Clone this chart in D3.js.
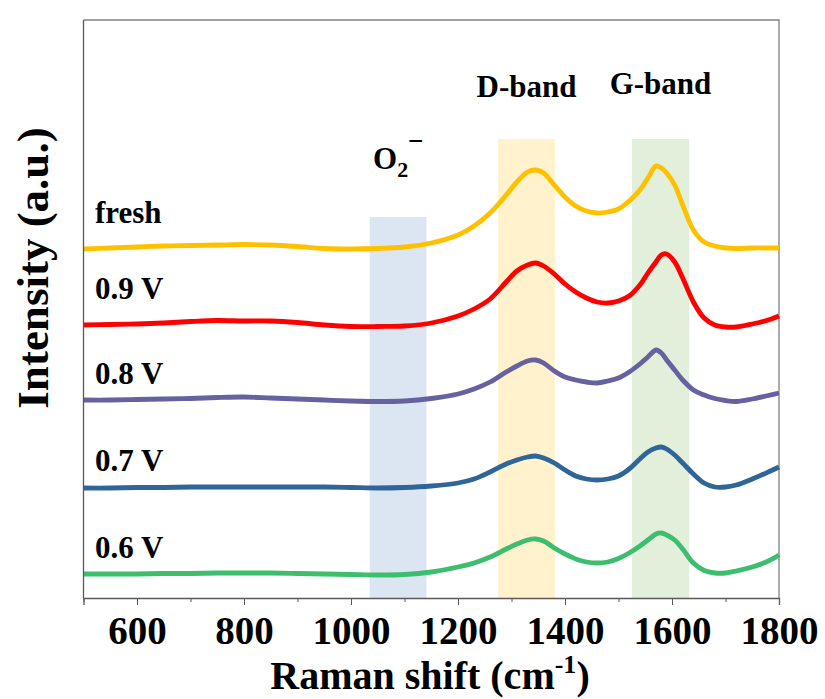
<!DOCTYPE html>
<html lang="en">
<head>
  <meta charset="UTF-8">
  <title>Raman spectra</title>
  <style>
    body { margin: 0; background: #fff; }
    svg { display: block; }
    text { font-family: "Liberation Serif", "Times New Roman", serif; font-weight: bold; fill: #000; }
    .series-label { font-size: 31px; }
    .band-label { font-size: 31px; }
  </style>
</head>
<body>
  <div id="chart"></div>

  <script src="https://d3js.org/d3.v7.min.js"></script>
  <script>
    // Raman shift (cm-1) sample positions, shared by all spectra
    const shifts = [500, 550, 600, 650, 700, 750, 800, 850, 900, 950, 1000, 1050, 1100, 1150, 1200,
      1230, 1260, 1290, 1310, 1330, 1345, 1360, 1380, 1400, 1420, 1440, 1460, 1480, 1500, 1520,
      1540, 1555, 1570, 1580, 1590, 1605, 1620, 1640, 1660, 1680, 1700, 1720, 1750, 1780, 1800];

    // intensities (a.u., stacked with offsets as in the figure)
    const fresh = [349, 350, 351, 352, 352.5, 353, 353.5, 353, 351.5, 349.5, 349, 349.5, 351, 355, 363,
      372, 385, 403, 416, 426, 428, 425, 413, 401, 392, 387, 385, 386, 389, 397,
      408, 420, 432, 430, 425, 413, 393, 368, 356, 352, 350, 349.5, 350, 350, 350];
    const v09 = [273, 273.5, 274, 275, 276.5, 277.5, 277, 277, 275.5, 273, 271.5, 271.5, 272, 275, 282,
      289, 299, 316, 327, 333, 335, 332, 324, 314, 306, 300, 296, 295, 297, 302,
      313, 325, 336, 343, 344, 336, 320, 296, 280, 273, 271, 271, 274, 278, 282];
    const v08 = [198, 198, 198.5, 199, 199.5, 200.5, 201, 200, 199, 198, 197, 196.5, 197, 199.5, 204,
      209, 216, 226, 232, 237, 238, 235, 227, 221, 218, 216, 215, 217, 220, 226,
      234, 241, 248, 245, 238, 228, 218, 208, 203, 199.5, 197.5, 196.5, 199, 202.5, 205];
    const v07 = [110, 110, 110.5, 110.5, 111, 111, 111, 111, 111, 111, 110.5, 110, 110.5, 112, 115,
      119, 126, 134, 138, 141, 142, 140, 135, 128, 122, 119, 118, 119, 122, 129,
      139, 146, 150, 151, 149, 143, 135, 124, 115, 111, 111, 113, 119, 126, 131];
    const v06 = [24, 24, 24, 24.5, 24.5, 25, 25, 25, 24.5, 24, 23.5, 23, 23.5, 26, 31,
      35, 41, 49, 54, 58, 59, 57, 50, 44, 39, 36, 35, 36, 39.5, 45,
      52, 58, 64, 65, 63, 58, 49, 35, 27.5, 25, 25, 27, 31, 37, 43];

    const seriesNames = ["fresh", "0.9 V", "0.8 V", "0.7 V", "0.6 V"];
    const seriesValues = [fresh, v09, v08, v07, v06];
    const seriesColors = ["#ffc000", "#ff0000", "#6661a0", "#2f6599", "#3dbe6f"];

    // highlighted regions (cm-1)
    const bandNames = ["O2-", "D-band", "G-band"];
    const bandRanges = [[1035, 1141], [1275, 1381], [1525, 1632]];
    const bandColors = ["#dce6f2", "#fff2cc", "#e2efda"];

    const xTicks = d3.range(500, 1801, 100);

    const W = 825, H = 699;
    const plot = { left: 83.5, right: 779, top: 20, bottom: 598 };

    const svg = d3.select("#chart").append("svg")
      .attr("width", W)
      .attr("height", H);

    const x = d3.scaleLinear().domain([500, 1800]).range([plot.left, plot.right]);
    const y = d3.scaleLinear().domain([0, 578]).range([plot.bottom, plot.top]);

    // shaded bands
    const bandTops = [381, 459, 459];
    svg.append("g").selectAll("rect")
      .data(bandRanges)
      .join("rect")
      .attr("x", d => x(d[0]))
      .attr("width", d => x(d[1]) - x(d[0]))
      .attr("y", (d, i) => y(bandTops[i]))
      .attr("height", (d, i) => plot.bottom - y(bandTops[i]))
      .attr("fill", (d, i) => bandColors[i]);

    // frame (top and right)
    svg.append("path")
      .attr("d", `M${plot.left},${plot.top}H${plot.right}V${plot.bottom}`)
      .attr("fill", "none")
      .attr("stroke", "#808080")
      .attr("stroke-width", 1.3);

    // spectra
    const line = d3.line()
      .x((d, i) => x(shifts[i]))
      .y(d => y(d))
      .curve(d3.curveCatmullRom.alpha(0.5));

    svg.append("g").selectAll("path")
      .data(seriesValues)
      .join("path")
      .attr("d", d => line(d))
      .attr("fill", "none")
      .attr("stroke", (d, i) => seriesColors[i])
      .attr("stroke-width", 4.8)
      .attr("stroke-linejoin", "round");

    // series labels
    const labelBase = [223, 299, 384, 471, 558];
    svg.append("g").selectAll("text")
      .data(seriesNames)
      .join("text")
      .attr("class", "series-label")
      .attr("x", 95)
      .attr("y", (d, i) => labelBase[i])
      .text(d => d);

    // x axis
    const xAxis = svg.append("g")
      .attr("transform", `translate(0,${plot.bottom})`)
      .call(d3.axisBottom(x)
        .tickValues(xTicks)
        .tickSize(7)
        .tickFormat(d => d % 200 === 0 ? d : ""));
    xAxis.select(".domain").attr("stroke", "#595959").attr("stroke-width", 1.3);
    xAxis.selectAll(".tick line")
      .attr("stroke", "#595959")
      .attr("y2", d => d % 200 === 0 ? 7 : 4);
    xAxis.selectAll(".tick text")
      .attr("dy", null)
      .attr("y", 46)
      .style("font-family", "'Liberation Serif', serif")
      .style("font-weight", "bold")
      .style("font-size", "39px");

    // y axis line (no ticks)
    svg.append("line")
      .attr("x1", plot.left).attr("x2", plot.left)
      .attr("y1", plot.top).attr("y2", plot.bottom)
      .attr("stroke", "#595959")
      .attr("stroke-width", 1.3);

    // axis titles
    const xt = svg.append("text")
      .attr("x", 430)
      .attr("y", 689)
      .attr("text-anchor", "middle")
      .style("font-size", "40px");
    xt.append("tspan").text("Raman shift (cm");
    xt.append("tspan").attr("dy", -16).style("font-size", "26px").text("-1");
    xt.append("tspan").attr("dy", 16).text(")");

    svg.append("text")
      .attr("transform", "translate(48,268) rotate(-90)")
      .attr("text-anchor", "middle")
      .style("font-size", "45px")
      .text("Intensity (a.u.)");

    // band labels
    svg.append("text").attr("class", "band-label")
      .attr("x", x(d3.mean(bandRanges[1]))).attr("y", 97)
      .attr("text-anchor", "middle").text(bandNames[1]);
    svg.append("text").attr("class", "band-label")
      .attr("x", x(d3.mean(bandRanges[2]))).attr("y", 94)
      .attr("text-anchor", "middle").text(bandNames[2]);

    const o2 = svg.append("text")
      .attr("class", "band-label")
      .attr("x", 373)
      .attr("y", 169);
    o2.append("tspan").text("O");
    o2.append("tspan").attr("dy", 8).style("font-size", "22px").text("2");
    o2.append("tspan").attr("x", 408).attr("y", 150).style("font-size", "27px").text("\u2212");
  </script>
</body>
</html>
